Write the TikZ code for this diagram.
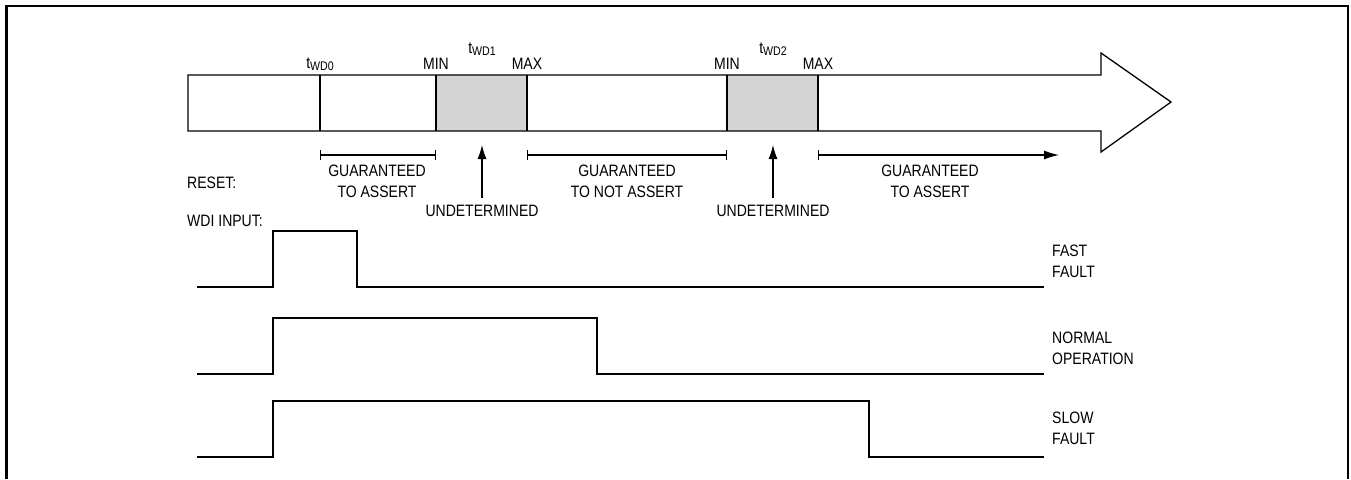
\documentclass[tikz,border=0pt]{standalone}
\usepackage{fontspec}
\setmainfont{Liberation Sans}[FakeStretch=0.85]
\usetikzlibrary{arrows.meta}
\begin{document}
\begin{tikzpicture}[x=1pt,y=-1pt,
  lbl/.style={inner sep=0pt, font=\fontsize{16.5}{21}\selectfont},
  barline/.style={line width=1.3pt, line join=miter},
  shade/.style={fill=black!17},
  sig/.style={line width=1.4pt},
  spanline/.style={line width=1.2pt, {Bar[width=10pt]}-{Bar[width=10pt]}},
  spanto/.style={line width=1.2pt, {Bar[width=10pt]}-{Latex[length=15pt,width=9pt]}},
  uparrow/.style={line width=1.2pt, -{Latex[length=14pt,width=9pt]}},
  frameline/.style={line width=2.5pt}
]
\newcommand{\twd}[1]{t\raisebox{-2pt}{\fontsize{12.5}{12.5}\selectfont WD#1}}
\useasboundingbox (0,0) rectangle (1351,479);

% outer frame (open at the bottom)
\draw[frameline] (6.5,479) -- (6.5,6) -- (1348,6) -- (1348,479);

% time bar coordinates
\coordinate (b0) at (188,75);
\coordinate (tw0t) at (320,75);  \coordinate (tw0b) at (320,131);
\coordinate (min1t) at (436,75); \coordinate (min1b) at (436,131);
\coordinate (max1t) at (527,75); \coordinate (max1b) at (527,131);
\coordinate (min2t) at (727,75); \coordinate (min2b) at (727,131);
\coordinate (max2t) at (818,75); \coordinate (max2b) at (818,131);

% undetermined windows
\fill[shade] (min1t) rectangle (max1b);
\fill[shade] (min2t) rectangle (max2b);

% big arrow outline
\draw[barline] (188,75) -- (1101,75) -- (1101,53) -- (1171,102) -- (1101,152)
  -- (1101,131) -- (188,131) -- cycle;
\draw[barline] (tw0t) -- (tw0b);
\draw[barline] (min1t) -- (min1b);
\draw[barline] (max1t) -- (max1b);
\draw[barline] (min2t) -- (min2b);
\draw[barline] (max2t) -- (max2b);

% labels above bar
\node[lbl, anchor=base] (lt0) at (320,68) {\twd{0}};
\node[lbl, anchor=base] (lmin1) at (436,69) {MIN};
\node[lbl, anchor=base] (lt1) at (482,53) {\twd{1}};
\node[lbl, anchor=base] (lmax1) at (527,69) {MAX};
\node[lbl, anchor=base] (lmin2) at (727,69) {MIN};
\node[lbl, anchor=base] (lt2) at (773,53) {\twd{2}};
\node[lbl, anchor=base] (lmax2) at (818,69) {MAX};

% ranges
\coordinate (r1a) at (320,155); \coordinate (r1b) at (436,155);
\coordinate (r2a) at (527,155); \coordinate (r2b) at (727,155);
\coordinate (r3a) at (818,155); \coordinate (r3b) at (1059,155);
\draw[spanline] (r1a) -- (r1b);
\draw[spanline] (r2a) -- (r2b);
\draw[spanto] (r3a) -- (r3b);

\node[lbl, anchor=north, align=center] (g1) at (377,165) {GUARANTEED\\TO ASSERT};
\node[lbl, anchor=north, align=center] (g2) at (627,165) {GUARANTEED\\TO NOT ASSERT};
\node[lbl, anchor=north, align=center] (g3) at (930,165) {GUARANTEED\\TO ASSERT};

% undetermined arrows
\node[lbl, anchor=north] (u1) at (482,205) {UNDETERMINED};
\node[lbl, anchor=north] (u2) at (773,205) {UNDETERMINED};
\coordinate (u1tip) at (482,145);
\coordinate (u2tip) at (773,145);
\coordinate (u1base) at (482,198);
\coordinate (u2base) at (773,198);
\draw[uparrow] (u1base) -- (u1tip);
\draw[uparrow] (u2base) -- (u2tip);

% left labels
\node[lbl, anchor=north west] (reset) at (187,177) {RESET:};
\node[lbl, anchor=north west] (wdi) at (187,215) {WDI INPUT:};

% waveforms
\draw[sig] (197,287) -- (273,287) -- (273,231) -- (357,231) -- (357,287) -- (1044,287);
\draw[sig] (197,374) -- (273,374) -- (273,318) -- (597,318) -- (597,374) -- (1044,374);
\draw[sig] (197,457) -- (273,457) -- (273,401) -- (869,401) -- (869,457) -- (1044,457);

% right labels
\node[lbl, anchor=north west, align=left] (fast) at (1052,245) {FAST\\FAULT};
\node[lbl, anchor=north west, align=left] (norm) at (1052,332) {NORMAL\\OPERATION};
\node[lbl, anchor=north west, align=left] (slow) at (1052,412) {SLOW\\FAULT};
\end{tikzpicture}
\end{document}
